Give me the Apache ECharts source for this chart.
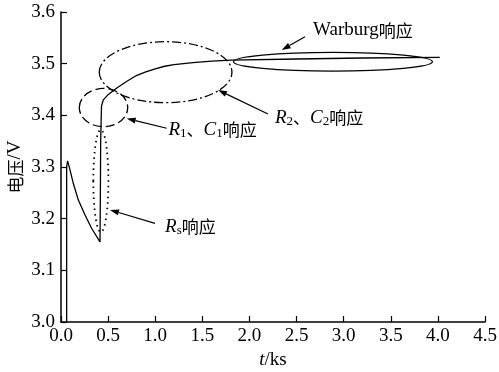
<!DOCTYPE html>
<html><head><meta charset="utf-8">
<script src="https://cdn.jsdelivr.net/npm/echarts@6/dist/echarts.min.js"></script>
<style>html,body{margin:0;padding:0;background:#fff}#c{width:499px;height:372px}</style>
</head><body><div id="c"></div>
<script>
// ---- data ----
const xTicks = ['0.0','0.5','1.0','1.5','2.0','2.5','3.0','3.5','4.0','4.5'];
const yTicks = ['3.0','3.1','3.2','3.3','3.4','3.5','3.6'];
const voltage = [
  [0.06,3.0],[0.06,3.300],[0.07,3.312],[0.08,3.305],[0.096,3.294],[0.131,3.268],
  [0.184,3.236],[0.255,3.207],[0.326,3.181],[0.414,3.155],[0.418,3.25],[0.421,3.35],
  [0.43,3.418],[0.449,3.430],[0.50,3.440],[0.55,3.447],[0.60,3.454],[0.70,3.466],
  [0.80,3.477],[0.90,3.484],[1.00,3.490],[1.10,3.495],[1.20,3.498],[1.40,3.502],
  [1.60,3.505],[1.80,3.507],[2.50,3.509],[3.20,3.511],[4.02,3.512]
];
// ellipse annotations: [centre t, centre V, radius t, radius V, style]
const ellipses = [
  [0.423,3.273,0.080,0.099,'dot'],
  [0.451,3.415,0.257,0.037,'dash'],
  [1.110,3.4835,0.704,0.059,'dashdot'],
  [2.886,3.5038,1.056,0.0181,'solid']
];
// arrows: [from t, from V, to t, to V]
const arrows = [
  [2.590,3.552,2.342,3.5265],
  [2.197,3.4026,1.666,3.449],
  [1.122,3.375,0.697,3.394],
  [0.998,3.191,0.520,3.217]
];
// labels: [t, V, kind]
const labels = [
  [2.675,3.565,'W'],
  [2.270,3.395,'R2'],
  [1.140,3.372,'R1'],
  [1.104,3.184,'Rs']
];

const SERIF = '"Liberation Serif","Times New Roman",serif';
const CJK = '"Noto Sans CJK SC",sans-serif';
const LS = 19, CS = 17;
const rich = {
  i:{fontFamily:SERIF,fontStyle:'italic',fontSize:LS,fill:'#000',color:'#000'},
  n:{fontFamily:SERIF,fontSize:LS,fill:'#000',color:'#000'},
  sub:{fontFamily:SERIF,fontSize:13,fill:'#000',color:'#000',padding:[8,0,0,0]},
  c:{fontFamily:CJK,fontSize:CS,fill:'#000',color:'#000'}
};
const texts = {
  W:'{n|Warburg}{c|响应}',
  R2:'{i|R}{sub|2}{c|、}{i|C}{sub|2}{c|响应}',
  R1:'{i|R}{sub|1}{c|、}{i|C}{sub|1}{c|响应}',
  Rs:'{i|R}{sub|s}{c|响应}'
};
const dashes = {dot:[1.5,4],dash:[9,4],dashdot:[9,3,2,3],solid:null};

const chart = echarts.init(document.getElementById('c'));
const axisCommon = {
  axisLine:{show:true,lineStyle:{color:'#000',width:1.5}},
  axisTick:{show:true,inside:true,length:6,lineStyle:{color:'#000',width:1.2}},
  splitLine:{show:false},
  axisLabel:{color:'#000',fontFamily:SERIF,fontSize:LS}
};
chart.setOption({
  animation:false,
  backgroundColor:'#fff',
  grid:{left:61,right:14,top:12,bottom:50,containLabel:false,outerBoundsMode:'none'},
  xAxis:Object.assign({}, axisCommon, {
    type:'value',min:0,max:4.5,interval:0.5,
    axisLabel:Object.assign({},axisCommon.axisLabel,{margin:5,formatter:(v)=>xTicks[Math.round(v/0.5)]}),
    name:'{i|t}{n|/ks}',nameLocation:'middle',nameGap:26,
    nameTextStyle:{rich:rich}
  }),
  yAxis:Object.assign({}, axisCommon, {
    type:'value',min:3.0,max:3.6,interval:0.1,
    axisLabel:Object.assign({},axisCommon.axisLabel,{margin:6,formatter:(v)=>yTicks[Math.round((v-3)/0.1)]}),
    name:'{c|电压}{n|/V}',nameLocation:'middle',nameGap:36,nameRotate:90,nameMoveOverlap:false,
    nameTextStyle:{rich:{c:{fontFamily:CJK,fontSize:CS,color:'#000'},n:{fontFamily:SERIF,fontSize:LS,color:'#000'}}}
  }),
  series:[
    {type:'line',data:voltage,showSymbol:false,symbol:'none',smooth:false,
     lineStyle:{color:'#000',width:1.3},z:5},
    {type:'custom',data:ellipses,clip:false,z:4,
     renderItem:function(params,api){
       const e = ellipses[params.dataIndex];
       const c = api.coord([e[0],e[1]]);
       const s = api.size([e[2],e[3]]);
       return {type:'ellipse',shape:{cx:c[0],cy:c[1],rx:s[0],ry:s[1]},
         style:{fill:null,stroke:'#000',lineWidth:e[4]==='dot'?1.8:1.3,lineDash:dashes[e[4]]}};
     }},
    {type:'custom',data:arrows,clip:false,z:6,
     renderItem:function(params,api){
       const a = arrows[params.dataIndex];
       const p0 = api.coord([a[0],a[1]]), p1 = api.coord([a[2],a[3]]);
       const dx=p1[0]-p0[0], dy=p1[1]-p0[1], L=Math.hypot(dx,dy), ux=dx/L, uy=dy/L;
       const hl=9, hw=3;
       const bx=p1[0]-ux*hl, by=p1[1]-uy*hl;
       return {type:'group',children:[
         {type:'line',shape:{x1:p0[0],y1:p0[1],x2:bx,y2:by},style:{stroke:'#000',lineWidth:1.2}},
         {type:'polygon',shape:{points:[[p1[0],p1[1]],[bx-uy*hw,by+ux*hw],[bx+uy*hw,by-ux*hw]]},style:{fill:'#000'}}
       ]};
     }},
    {type:'custom',data:labels,clip:false,z:7,
     renderItem:function(params,api){
       const l = labels[params.dataIndex];
       const p = api.coord([l[0],l[1]]);
       return {type:'text',x:p[0],y:p[1],style:{text:texts[l[2]],rich:rich,fill:'#000',
         verticalAlign:'middle',align:'left'}};
     }}
  ]
});
</script></body></html>
